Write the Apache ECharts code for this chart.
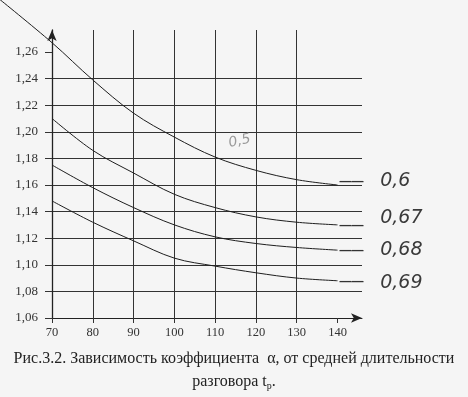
<!DOCTYPE html>
<html><head><meta charset="utf-8">
<script src="https://cdn.jsdelivr.net/npm/echarts@6/dist/echarts.min.js"></script>
<style>html,body{margin:0;padding:0;background:#f5f5f5}#c{width:468px;height:397px}</style>
</head><body><div id="c"></div>
<script>
// Data
const xTicks = [70, 80, 90, 100, 110, 120, 130, 140];
const yTicks = [1.06, 1.08, 1.10, 1.12, 1.14, 1.16, 1.18, 1.20, 1.22, 1.24, 1.26];
const xTop = [57, 70, 80, 90, 100, 110, 120, 130, 140];
const a05 = [1.300, 1.267, 1.239, 1.214, 1.196, 1.181, 1.171, 1.164, 1.160];
const xs = [70, 80, 90, 100, 110, 120, 130, 140];
const a067 = [1.210, 1.186, 1.169, 1.153, 1.143, 1.136, 1.132, 1.130];
const a068 = [1.175, 1.158, 1.143, 1.130, 1.121, 1.116, 1.113, 1.111];
const a069 = [1.148, 1.132, 1.118, 1.105, 1.099, 1.094, 1.090, 1.088];
const curveNames = ['0,6', '0,67', '0,68', '0,69'];
const topNote = '0,5';
const caption1 = 'Рис.3.2. Зависимость коэффициента  α, от средней длительности';
const caption2 = 'разговора t{s|р}.';

const serif = '"Liberation Serif","DejaVu Serif",serif';
const hand = '"DejaVu Sans","Noto Sans",sans-serif';
const ink = '#1e1e1e';

function zip(x, y) { return x.map((v, i) => [v, y[i]]); }
function curve(x, y, label, dashDy, textRaise, gi) {
  return {
    type: 'line', data: zip(x, y), smooth: 0.35, symbol: 'none', clip: false,
    xAxisIndex: gi, yAxisIndex: gi,
    lineStyle: { color: ink, width: 1 },
    endLabel: {
      show: true, distance: 2, offset: [0, dashDy],
      formatter: '{d|——}     {t|' + label + '}',
      rich: {
        d: { fontSize: 12, color: '#333', fontWeight: 'bold' },
        t: { fontSize: 19, fontFamily: hand, fontStyle: 'italic', color: '#3a3a3a',
             padding: textRaise >= 0 ? [0, 0, textRaise, 0] : [-textRaise, 0, 0, 0] }
      }
    }
  };
}

const chart = echarts.init(document.getElementById('c'));
const top05 = curve(xTop, a05, curveNames[0], -3, 2, 1);
top05.markPoint = {
  symbol: 'circle', symbolSize: 1, itemStyle: { color: 'rgba(0,0,0,0)' },
  data: [{ coord: [116, 1.193], label: { show: true, position: 'inside', formatter: topNote, fontSize: 14, fontStyle: 'italic', fontFamily: hand, color: '#9a9a9a', rotate: 12 } }]
};
const hidden = { show: false };
chart.setOption({
  backgroundColor: '#f5f5f5',
  animation: false,
  title: [
    { text: caption1, left: 'center', top: 346, textStyle: { fontFamily: serif, fontSize: 16, fontWeight: 'normal', color: '#222' } },
    { text: caption2, left: 'center', top: 368, textStyle: { fontFamily: serif, fontSize: 16, fontWeight: 'normal', color: '#222', rich: { s: { fontSize: 10, verticalAlign: 'bottom', padding: [8, 0, 0, 0], fontFamily: serif, color: '#222' } } } }
  ],
  grid: [
    { left: 52, right: 106, top: 30, bottom: 79 },
    { left: 0, right: 106, top: 0, bottom: 79 }
  ],
  xAxis: [{
    type: 'value', min: 70, max: 146, interval: 10, gridIndex: 0,
    axisLine: { show: true, lineStyle: { color: '#222', width: 1 }, symbol: ['none', 'arrow'], symbolSize: [7, 11] },
    axisTick: { show: true, length: 5, lineStyle: { color: '#333' }, customValues: xTicks },
    axisLabel: { customValues: xTicks, fontFamily: serif, fontSize: 12.5, color: '#333', margin: 8 },
    splitLine: { show: true, showMaxLine: false, lineStyle: { color: '#333', width: 1 } }
  }, {
    type: 'value', gridIndex: 1, min: 57.25, max: 146,
    axisLine: hidden, axisTick: hidden, axisLabel: hidden, splitLine: hidden
  }],
  yAxis: [{
    type: 'value', min: 1.06, max: 1.2765, interval: 0.02, gridIndex: 0,
    axisLine: { show: true, lineStyle: { color: '#222', width: 1.3 }, symbol: ['none', 'arrow'], symbolSize: [7, 11] },
    axisTick: { show: true, length: 7, lineStyle: { color: '#333' }, customValues: yTicks },
    axisLabel: { customValues: yTicks, fontFamily: serif, fontSize: 13, color: '#333', margin: 14,
      formatter: v => v.toFixed(2).replace('.', ',') },
    splitLine: { show: true, showMaxLine: false, lineStyle: { color: '#333', width: 1 } }
  }, {
    type: 'value', gridIndex: 1, min: 1.06, max: 1.2991,
    axisLine: hidden, axisTick: hidden, axisLabel: hidden, splitLine: hidden
  }],
  series: [
    top05,
    curve(xs, a067, curveNames[1], 1, 16, 0),
    curve(xs, a068, curveNames[2], 1, 2, 0),
    curve(xs, a069, curveNames[3], 1, -3, 0)
  ]
});
</script></body></html>
